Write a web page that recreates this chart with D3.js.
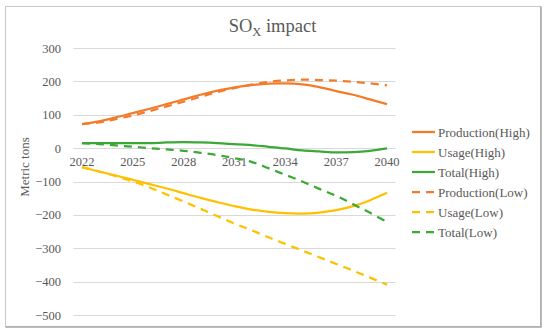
<!DOCTYPE html>
<meta charset="utf-8">
<head>
    <title>SOx impact</title>
    <style>
        body { margin: 0; background: #fff; }
        text { font-family: "Liberation Serif", "Times New Roman", serif; fill: #595959; }
    </style>
</head>
<body>
<script src="https://cdn.jsdelivr.net/npm/d3@7"></script>
<script>
    // data
    var years = [2022, 2023, 2024, 2025, 2026, 2027, 2028, 2029, 2030, 2031,
                 2032, 2033, 2034, 2035, 2036, 2037, 2038, 2039, 2040];
    var yearTicks = [2022, 2025, 2028, 2031, 2034, 2037, 2040];
    var valueTicks = [300, 200, 100, 0, -100, -200, -300, -400, -500];

    var productionHigh = [72, 80, 92, 105, 118, 132, 146, 160, 172, 182, 189, 193, 194, 191, 183, 171, 160, 146, 132];
    var usageHigh = [-57, -70, -82, -95, -108, -121, -135, -149, -162, -174, -184, -191, -195, -196, -193, -186, -174, -156, -134];
    var totalHigh = [15, 15, 15, 15, 15, 17, 18, 17, 15, 12, 9, 4, -1, -7, -10, -13, -12, -8, -1];
    var productionLow = [72, 77, 87, 98, 111, 125, 139, 154, 168, 180, 190, 198, 203, 205, 204, 202, 199, 194, 188];
    var usageLow = [-57, -70, -84, -100, -118, -139, -160, -182, -204, -226, -246, -267, -287, -307, -327, -347, -367, -388, -409];
    var totalLow = [15, 12, 8, 4, 0, -4, -8, -14, -21, -30, -41, -60, -80, -100, -122, -143, -168, -194, -221];

    var seriesNames = ["Production(High)", "Usage(High)", "Total(High)",
                       "Production(Low)", "Usage(Low)", "Total(Low)"];
    var seriesValues = [productionHigh, usageHigh, totalHigh, productionLow, usageLow, totalLow];
    var colors = ["#F47B2A", "#FFC000", "#3AA935", "#F47B2A", "#FFC000", "#3AA935"];
    var dashed = [false, false, false, true, true, true];

    var width = 550, height = 331;
    var serif = '"Liberation Serif", "Times New Roman", serif';

    var svg = d3.select("body")
        .append("svg")
        .attr("width", width)
        .attr("height", height);

    // chart frame
    svg.append("rect")
        .attr("x", 5.5).attr("y", 6.5)
        .attr("width", 535).attr("height", 320)
        .style("fill", "#fff")
        .style("stroke", "#c8c8c8");
    svg.append("path")
        .attr("d", "M541,6.5 V327 H5.5")
        .style("fill", "none")
        .style("stroke", "#a6a6a6")
        .style("stroke-width", 1.5);

    // scales
    var xScale = d3.scaleBand()
        .domain(years)
        .range([73.5, 395.5])
        .padding(0);
    var xc = function(y) { return xScale(y) + xScale.bandwidth() / 2; };

    var yScale = d3.scaleLinear()
        .domain([-500, 300])
        .range([315, 48]);

    // gridlines
    svg.append("g")
        .selectAll("line")
        .data(valueTicks)
        .enter().append("line")
        .attr("x1", 73.5).attr("x2", 395.5)
        .attr("y1", d => Math.round(yScale(d)) + 0.5)
        .attr("y2", d => Math.round(yScale(d)) + 0.5)
        .style("stroke", "#d9d9d9");

    // y axis labels
    var yAxis = svg.append("g")
        .attr("transform", "translate(66,0)")
        .call(d3.axisLeft(yScale).tickValues(valueTicks).tickSize(0).tickPadding(5)
            .tickFormat(d => d < 0 ? "\u2212" + Math.abs(d) : d));
    yAxis.select(".domain").remove();
    yAxis.attr("font-family", serif);
    yAxis.selectAll("text").style("font-size", "12.5px").style("font-family", serif).style("fill", "#595959");

    // x axis labels sit under the zero line
    var xAxis = svg.append("g")
        .attr("transform", "translate(0," + yScale(0) + ")")
        .call(d3.axisBottom(xScale).tickValues(yearTicks).tickSize(0).tickPadding(9));
    xAxis.select(".domain").remove();
    xAxis.attr("font-family", serif);
    xAxis.selectAll("text").style("font-size", "12.5px").style("font-family", serif).style("fill", "#595959");

    // axis title
    svg.append("text")
        .attr("transform", "translate(29,167) rotate(-90)")
        .attr("text-anchor", "middle")
        .style("font-size", "13px")
        .text("Metric tons");

    // title
    var title = svg.append("text")
        .attr("x", 272.5)
        .attr("y", 31.5)
        .attr("text-anchor", "middle")
        .style("font-size", "18.5px");
    title.append("tspan").text("SO");
    title.append("tspan").attr("dy", 4).style("font-size", "12.5px").text("X");
    title.append("tspan").attr("dy", -4).text(" impact");

    // lines
    var lineGenerator = d3.line()
        .x((d, i) => xc(years[i]))
        .y(d => yScale(d))
        .curve(d3.curveCatmullRom.alpha(0.5));

    svg.append("g")
        .selectAll("path")
        .data(seriesValues)
        .enter().append("path")
        .attr("d", d => lineGenerator(d))
        .style("fill", "none")
        .style("stroke", (d, i) => colors[i])
        .style("stroke-width", 2.25)
        .style("stroke-dasharray", (d, i) => dashed[i] ? "8,6" : null);

    // legend
    var legend = svg.append("g")
        .attr("transform", "translate(412,132)");
    var items = legend.selectAll("g")
        .data(seriesNames)
        .enter().append("g")
        .attr("transform", (d, i) => "translate(0," + i * 20 + ")");
    items.append("line")
        .attr("x1", 0).attr("x2", 23)
        .style("stroke", (d, i) => colors[i])
        .style("stroke-width", 2.25)
        .style("stroke-dasharray", (d, i) => dashed[i] ? "8,6" : null);
    items.append("text")
        .attr("x", 26)
        .attr("dy", "0.35em")
        .style("font-size", "13px")
        .text(d => d);
</script>
</body>
</html>
